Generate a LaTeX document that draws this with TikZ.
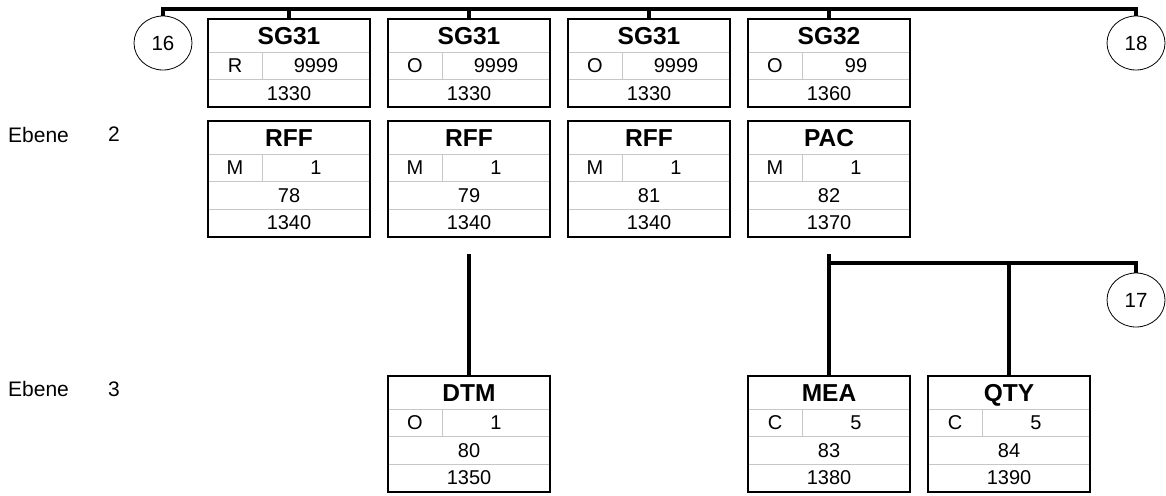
\documentclass[tikz,border=0pt]{standalone}
\usepackage{fontspec}
\setmainfont{Liberation Sans}
\usepackage{tikz}
\usetikzlibrary{calc, positioning, shapes.geometric}
\tikzset{
    headnode/.style = {draw=black!22, rectangle, inner sep=0pt, outer sep=0pt, minimum width=162pt,
      minimum height=33pt, text height=17.6pt, text depth=0pt, font=\fontsize{24.5}{27}\selectfont\bfseries},
    cellnode/.style = {draw=black!22, line width=0.8pt, rectangle, inner sep=0pt, outer sep=0pt,
      minimum height=27.6pt, font=\fontsize{20}{22}\selectfont},
    framebox/.style = {draw=black, line width=2pt},
    textnode/.style = {draw=none, fill=none, rectangle, inner sep=0pt, font=\fontsize{21}{23}\selectfont},
    ellipsenode/.style = {draw, ellipse, line width=0.8pt, inner sep=0pt, minimum width=58pt,
      minimum height=54pt, font=\fontsize{20.5}{22}\selectfont},
    connect/.style = {black, line width=3.2pt}
}
% segment group: id, x, top, title, status, rep, position
\newcommand{\grpbox}[7]{
    \node [headnode, anchor=north] (#1h) at (#2,#3) {#4};
    \node [cellnode, minimum width=54pt, anchor=north west] (#1s) at (#1h.south west) {#5};
    \node [cellnode, minimum width=108pt, anchor=north west] (#1r) at (#1s.north east) {#6};
    \node [cellnode, minimum width=162pt, anchor=north west] (#1p) at (#1s.south west) {#7};
    \draw [framebox] (#1h.north west) rectangle (#1p.south east);
}
% segment: id, x, top, title, status, rep, number, position
\newcommand{\segbox}[8]{
    \node [headnode, anchor=north] (#1h) at (#2,#3) {#4};
    \node [cellnode, minimum width=54pt, anchor=north west] (#1s) at (#1h.south west) {#5};
    \node [cellnode, minimum width=108pt, anchor=north west] (#1r) at (#1s.north east) {#6};
    \node [cellnode, minimum width=162pt, anchor=north west] (#1n) at (#1s.south west) {#7};
    \node [cellnode, minimum width=162pt, anchor=north west] (#1p) at (#1n.south west) {#8};
    \draw [framebox] (#1h.north west) rectangle (#1p.south east);
}

\begin{document}
\begin{tikzpicture}[x=1pt, y=-1pt]
    \useasboundingbox (0,0) rectangle (1166,495);

    \node [name=eb2, textnode, anchor=west] at (8,134.5) {Ebene};
    \node [name=lv2, textnode] at (114,134.5) {2};
    \node [name=eb3, textnode, anchor=west] at (8,389) {Ebene};
    \node [name=lv3, textnode] at (114,389) {3};

    \grpbox{sga}{289}{19}{SG31}{R}{9999}{1330}
    \grpbox{sgb}{469}{19}{SG31}{O}{9999}{1330}
    \grpbox{sgc}{649}{19}{SG31}{O}{9999}{1330}
    \grpbox{sgd}{829}{19}{SG32}{O}{99}{1360}

    \segbox{rffa}{289}{121}{RFF}{M}{1}{78}{1340}
    \segbox{rffb}{469}{121}{RFF}{M}{1}{79}{1340}
    \segbox{rffc}{649}{121}{RFF}{M}{1}{81}{1340}
    \segbox{pac}{829}{121}{PAC}{M}{1}{82}{1370}

    \segbox{dtm}{469}{376}{DTM}{O}{1}{80}{1350}
    \segbox{mea}{829}{376}{MEA}{C}{5}{83}{1380}
    \segbox{qty}{1009}{376}{QTY}{C}{5}{84}{1390}

    \node [name=c16, ellipsenode] at (163,43) {16};
    \node [name=c18, ellipsenode] at (1136,43) {18};
    \node [name=c17, ellipsenode] at (1136,300) {17};

    % level 1 bus
    \coordinate (bus) at (163,9);
    \draw [connect] (c16.north) |- (bus -| c18.north) -- (c18.north);
    \foreach \g in {sga,sgb,sgc,sgd}
        \draw [connect] (\g h.north) -- (\g h.north |- bus);

    % level 3
    \coordinate (dtmtop) at (469,254);
    \draw [connect] (dtmtop) -- (dtmh.north);
    \coordinate (pactop) at (829,254);
    \coordinate (branch) at (829,263);
    \draw [connect] (pactop) -- (meah.north);
    \draw [connect] (branch) -| (c17.north);
    \draw [connect] (qtyh.north) -- (qtyh.north |- branch);
\end{tikzpicture}
\end{document}
